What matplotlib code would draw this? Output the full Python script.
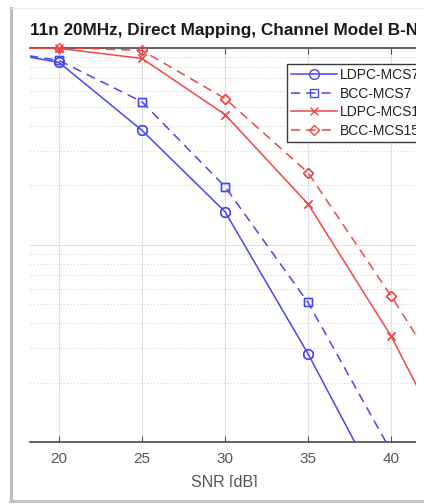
import numpy as np
import matplotlib
matplotlib.use("Agg")
import matplotlib.pyplot as plt
from matplotlib.lines import Line2D
from matplotlib.patches import Rectangle

# ---- data ----
snr = [15, 20, 25, 30, 35, 40, 45]
ldpc_mcs7 = [1.0, 0.84, 0.38, 0.147, 0.028, 0.0045, np.nan]
bcc_mcs7 = [1.0, 0.86, 0.53, 0.197, 0.051, 0.009, np.nan]
ldpc_mcs15 = [1.0, 0.99, 0.88, 0.457, 0.161, 0.0345, 0.0053]
bcc_mcs15 = [1.0, 1.0, 0.966, 0.551, 0.232, 0.0551, 0.012]
labels = ["LDPC-MCS7", "BCC-MCS7", "LDPC-MCS15", "BCC-MCS15"]
xticks = [20, 25, 30, 35, 40]
title = "11n 20MHz, Direct Mapping, Channel Model B-NLOS"
xlabel = "SNR [dB]"

W, H = 424, 504
plt.rcParams['font.family'] = ['Liberation Sans', 'DejaVu Sans']
fig = plt.figure(figsize=(W / 100, H / 100), dpi=100)
fig.patch.set_facecolor("white")

def fx(px):
    return px / W

def fy(py):
    return 1 - py / H

# axes geometry in pixels
ax_l, ax_r, ax_t, ax_b = 30, 474, 47.5, 442
ax = fig.add_axes([fx(ax_l), fy(ax_b), (ax_r - ax_l) / W, (ax_b - ax_t) / H])
ax.set_yscale("log")
ax.set_xlim(18.25, 45)
ax.set_ylim(1e-2, 1)

blue = "#4646f2"
red = "#f24646"
styles = [
    dict(color=blue, ls="-", marker="o", ms=7.0),
    dict(color=blue, ls=(0, (6, 4)), marker="s", ms=6.0),
    dict(color=red, ls="-", marker="x", ms=5.5),
    dict(color=red, ls=(0, (6, 4)), marker="D", ms=5.5),
]
series = [ldpc_mcs7, bcc_mcs7, ldpc_mcs15, bcc_mcs15]
x = np.array(snr, dtype=float)
x0, x1 = ax.get_xlim()
y0, y1 = ax.get_ylim()
for vals, st, lab in zip(series, styles, labels):
    y = np.array(vals, dtype=float)
    ax.plot(x, y, color=st["color"], ls=st["ls"], lw=1.1, marker=st["marker"],
            ms=st["ms"], mfc="none", mec=st["color"], mew=1.0, label=lab, zorder=3)
    vis = (x >= x0) & (x <= x1) & (y >= y0 * 0.999) & (y <= y1 * 1.001)
    ax.plot(x[vis], y[vis], ls="none", marker=st["marker"], ms=st["ms"],
            mfc="none", mec=st["color"], mew=1.0, clip_on=False, zorder=4)

# grid
ax.set_xticks(xticks)
ax.set_xticklabels([str(t) for t in xticks])
ax.xaxis.grid(True, which="major", color="#e0e0e0", lw=0.8, ls="-")
ax.yaxis.grid(True, which="major", color="#e0e0e0", lw=0.8, ls="-")
ax.yaxis.grid(True, which="minor", color="#d4d4d4", lw=0.8, ls=(0, (1, 2)))
ax.set_axisbelow(True)
ax.tick_params(axis="x", which="both", direction="in", top=True, bottom=True,
               length=4, width=0.8, color="#555555", labelsize=11,
               labelcolor="#555555", pad=7)
ax.tick_params(axis="y", which="both", left=False, right=False, labelleft=False)
for s in ["left", "right"]:
    ax.spines[s].set_visible(False)
for s in ["top", "bottom"]:
    ax.spines[s].set_color("#4a4a4a")
    ax.spines[s].set_linewidth(1.2)

ax.set_xlabel(xlabel, fontsize=11.5, color="#555555")
ax.xaxis.set_label_coords((224 - ax_l) / (ax_r - ax_l), -(482 - ax_b) / (ax_b - ax_t), transform=ax.transAxes)
ax.xaxis.label.set_verticalalignment("center")

fig.text(fx(30), fy(31), title, fontsize=12.3, fontweight="bold", color="#1a1a1a",
         ha="left", va="center")

leg = ax.legend(loc="upper left", bbox_to_anchor=(fx(287), fy(64)),
                bbox_transform=fig.transFigure, fontsize=10, frameon=True,
                fancybox=False, edgecolor="#3a3a3a", framealpha=1,
                handlelength=3.3, handletextpad=0.2, labelspacing=0.33,
                borderpad=0.3, borderaxespad=0)
leg.get_frame().set_linewidth(1.0)
for t in leg.get_texts():
    t.set_color("#222222")

# crop-like white covers and screenshot frame
fig.add_artist(Rectangle((fx(416), fy(498)), fx(W - 416), (498 - 8) / H,
                         transform=fig.transFigure, facecolor="white", edgecolor="none", zorder=10))
fig.add_artist(Rectangle((fx(12), fy(498)), fx(W - 12), (498 - 487) / H,
                         transform=fig.transFigure, facecolor="white", edgecolor="none", zorder=10))
fig.add_artist(Line2D([fx(11), fx(11)], [fy(8), fy(501)], transform=fig.transFigure,
                      color="#bdbdbd", lw=2.2, zorder=11))
fig.add_artist(Line2D([fx(10), fx(W)], [fy(500.5), fy(500.5)], transform=fig.transFigure,
                      color="#c4c4c4", lw=2.2, zorder=11))
fig.add_artist(Line2D([fx(11), fx(W)], [fy(8), fy(8)], transform=fig.transFigure,
                      color="#ebebeb", lw=0.8, zorder=11))

fig.savefig("out.png", dpi=100)
